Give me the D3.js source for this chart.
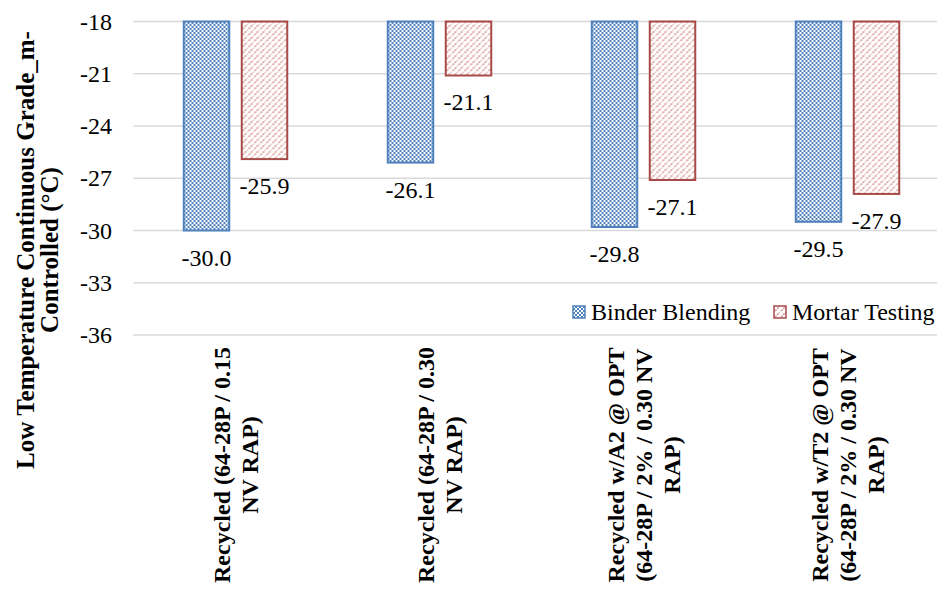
<!DOCTYPE html>
<html>
<head>
<meta charset="utf-8">
<script src="https://cdn.jsdelivr.net/npm/d3@7"></script>
<style>
  html, body { margin: 0; padding: 0; background: #fff; }
  svg { display: block; }
</style>
</head>
<body>
<svg id="chart" width="937" height="591"></svg>
<script>
const categories = [
  ["Recycled (64-28P / 0.15", "NV RAP)"],
  ["Recycled (64-28P / 0.30", "NV RAP)"],
  ["Recycled w/A2 @ OPT", "(64-28P / 2% / 0.30 NV", "RAP)"],
  ["Recycled w/T2 @ OPT", "(64-28P / 2% / 0.30 NV", "RAP)"]
];
const seriesNames = ["Binder Blending", "Mortar Testing"];
const binderBlending = [-30.0, -26.1, -29.8, -29.5];
const mortarTesting = [-25.9, -21.1, -27.1, -27.9];
const yTicks = [-18, -21, -24, -27, -30, -33, -36];
const yTitle = ["Low Temperature Continuous Grade_m-", "Controlled (°C)"];

const seriesValues = [binderBlending, mortarTesting];
const FONT = "'Liberation Serif', 'Times New Roman', Tinos, serif";
const FS = 24;
const svg = d3.select("#chart");

const defs = svg.append("defs");
const checker = defs.append("pattern").attr("id", "pBlue")
  .attr("patternUnits", "userSpaceOnUse").attr("width", 4).attr("height", 4);
checker.append("rect").attr("width", 4).attr("height", 4).attr("fill", "#ffffff");
checker.append("rect").attr("x", 0).attr("y", 0).attr("width", 2).attr("height", 2).attr("fill", "#4F81BD");
checker.append("rect").attr("x", 2).attr("y", 2).attr("width", 2).attr("height", 2).attr("fill", "#4F81BD");

const diag = defs.append("pattern").attr("id", "pRed")
  .attr("patternUnits", "userSpaceOnUse").attr("width", 6).attr("height", 6);
diag.append("rect").attr("width", 6).attr("height", 6).attr("fill", "#ffffff");
diag.append("path").attr("d", "M-1,7 L7,-1 M-4,4 L4,-4 M2,10 L10,2")
  .attr("stroke", "#DA9694").attr("stroke-width", 1.6).attr("stroke-dasharray", "2,1");

const fills = ["url(#pBlue)", "url(#pRed)"];
const strokes = ["#4F81BD", "#A84A47"];

const y = d3.scaleLinear().domain([-18, -36]).range([21.5, 335]);
const x0 = d3.scaleBand().domain(d3.range(categories.length)).range([133.5, 949.5]);
const x1 = d3.scaleBand().domain(d3.range(seriesNames.length))
  .range([49.5, 154.5]).paddingInner(0.19);

// gridlines
svg.append("g").selectAll("line").data(yTicks).join("line")
  .attr("x1", 133.5).attr("x2", 937)
  .attr("y1", d => y(d)).attr("y2", d => y(d))
  .attr("stroke", "#D9D9D9").attr("stroke-width", 1.5);

// y tick labels
svg.append("g").selectAll("text").data(yTicks).join("text")
  .attr("x", 112).attr("y", d => y(d))
  .attr("text-anchor", "end").attr("dominant-baseline", "central")
  .attr("font-family", FONT)
  .attr("font-size", FS).attr("fill", "#000")
  .text(d => d);

// bars
const groups = svg.append("g").selectAll("g").data(categories).join("g")
  .attr("transform", (d, i) => `translate(${x0(i)},0)`);

groups.selectAll("rect").data((d, i) => seriesValues.map((s, k) => ({k, v: s[i]}))).join("rect")
  .attr("x", d => x1(d.k) + 0.75)
  .attr("width", x1.bandwidth() - 1.5)
  .attr("y", y(-18))
  .attr("height", d => y(d.v) - y(-18))
  .attr("fill", d => fills[d.k])
  .attr("stroke", d => strokes[d.k])
  .attr("stroke-width", 2);

groups.selectAll("text.val").data((d, i) => seriesValues.map((s, k) => ({k, v: s[i]}))).join("text")
  .attr("class", "val")
  .attr("x", d => x1(d.k) + x1.bandwidth() / 2)
  .attr("y", d => y(d.v) + 35)
  .attr("text-anchor", "middle")
  .attr("font-family", FONT)
  .attr("font-size", FS).attr("fill", "#000")
  .text(d => d3.format(".1f")(d.v).replace("−", "-"));

// category labels (rotated)
const lh = 28;
svg.append("g").selectAll("text").data(categories).join("text")
  .attr("transform", (d, i) => `translate(${x0(i) + x0.bandwidth() / 2},465) rotate(-90)`)
  .attr("text-anchor", "middle").attr("font-size", FS).attr("font-weight", "bold").attr("fill", "#000")
  .attr("font-family", FONT)
  .each(function(lines) {
    const n = lines.length;
    d3.select(this).selectAll("tspan").data(lines).join("tspan")
      .attr("x", 0)
      .attr("y", (l, j) => (j - (n - 1) / 2) * lh)
      .attr("dy", "0.35em")
      .text(l => l);
  });

// y axis title
svg.append("text")
  .attr("transform", "translate(37,250) rotate(-90)")
  .attr("text-anchor", "middle").attr("font-size", 25).attr("font-weight", "bold").attr("fill", "#000")
  .attr("font-family", FONT)
  .selectAll("tspan").data(yTitle).join("tspan")
  .attr("x", 0)
  .attr("y", (l, j) => (j - 0.5) * 24)
  .attr("dy", "0.35em")
  .text(l => l);

// legend
const legendX = [573, 774];
const lg = svg.append("g").selectAll("g").data(seriesNames).join("g")
  .attr("transform", (d, i) => `translate(${legendX[i]},312)`);
lg.append("rect").attr("x", 0).attr("y", -6).attr("width", 12).attr("height", 12)
  .attr("fill", (d, i) => fills[i]).attr("stroke", (d, i) => strokes[i]).attr("stroke-width", 1.5);
lg.append("text").attr("x", 18).attr("y", 0).attr("dominant-baseline", "central")
  .attr("font-family", FONT)
  .attr("font-size", FS).attr("fill", "#000").text(d => d);
</script>
</body>
</html>
